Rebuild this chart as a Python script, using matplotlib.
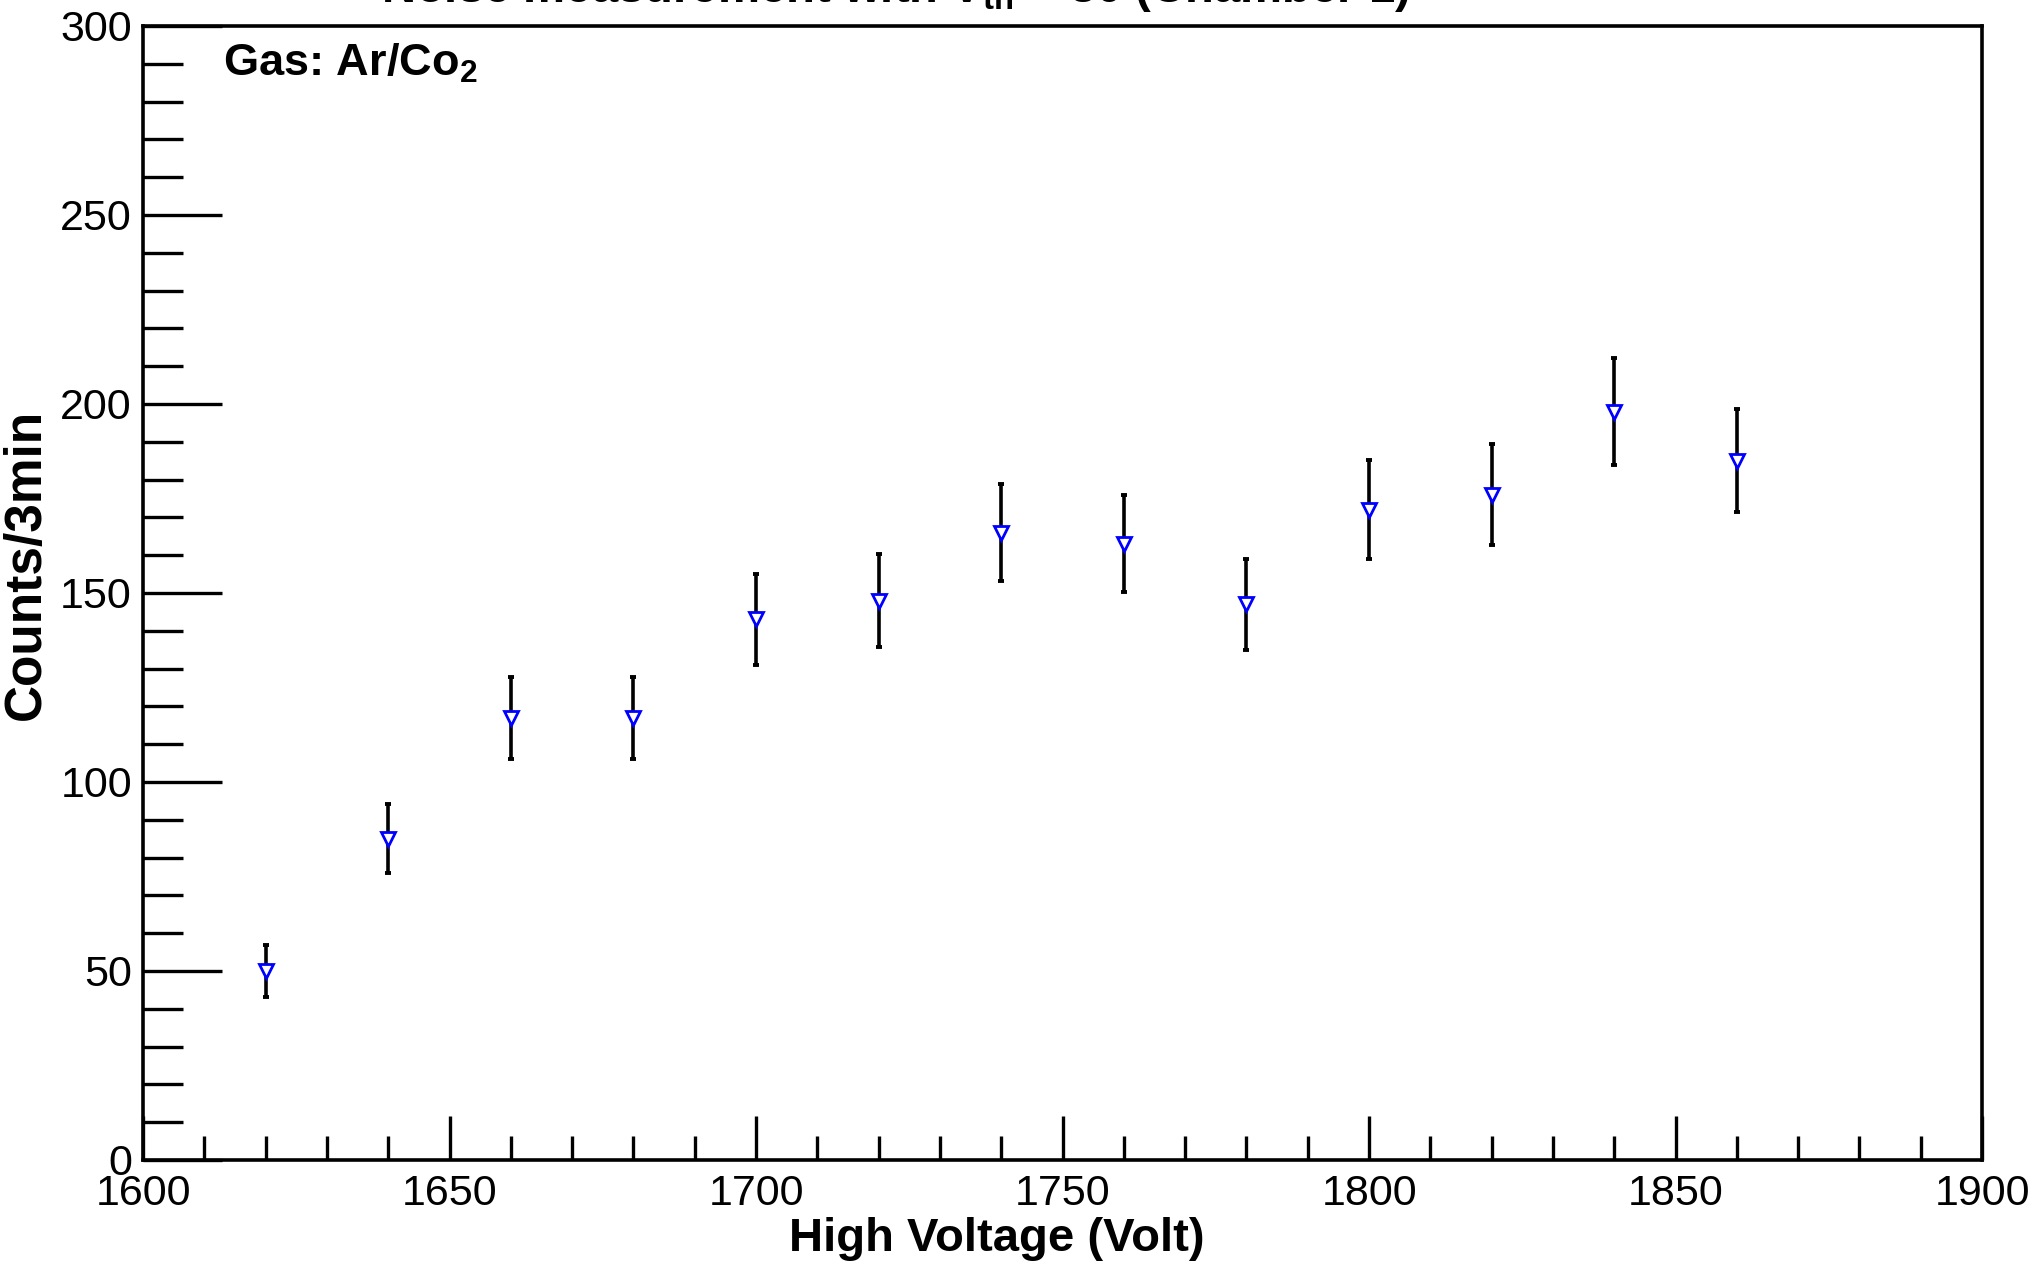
import matplotlib.pyplot as plt
import numpy as np
from matplotlib.ticker import MultipleLocator

plt.rcParams['font.family'] = ['Liberation Sans', 'DejaVu Sans']
plt.rcParams['mathtext.fontset'] = 'custom'
plt.rcParams['mathtext.rm'] = 'Liberation Sans'
plt.rcParams['mathtext.bf'] = 'Liberation Sans:bold'

# data
hv = [1620, 1640, 1660, 1680, 1700, 1720, 1740, 1760, 1780, 1800, 1820, 1840, 1860]
counts = [50, 85, 117, 117, 143, 148, 166, 163, 147, 172, 176, 198, 185]
err = [7, 9.2, 10.8, 10.8, 12, 12.2, 12.9, 12.8, 12.1, 13.1, 13.3, 14.1, 13.6]

fig = plt.figure(figsize=(20.35, 12.68), dpi=100)
ax = fig.add_axes([0.0703, 0.0852, 0.9037, 0.8943])

ax.errorbar(hv, counts, yerr=err, fmt='none', ecolor='k', elinewidth=2.6,
            capsize=2.5, capthick=2.8)
ax.plot(hv, counts, linestyle='none', marker='v', markersize=10,
        markerfacecolor='white', markeredgecolor='blue', markeredgewidth=2.0)

ax.set_xlim(1600, 1900)
ax.set_ylim(0, 300)
ax.xaxis.set_major_locator(MultipleLocator(50))
ax.xaxis.set_minor_locator(MultipleLocator(10))
ax.yaxis.set_major_locator(MultipleLocator(50))
ax.yaxis.set_minor_locator(MultipleLocator(10))

ax.tick_params(axis='both', which='both', direction='in', top=False, right=False,
               width=2.4, labelsize=31)
ax.tick_params(axis='x', which='major', length=32, pad=10)
ax.tick_params(axis='x', which='minor', length=17)
ax.tick_params(axis='y', which='major', length=57, pad=8)
ax.tick_params(axis='y', which='minor', length=29)
for s in ax.spines.values():
    s.set_linewidth(2.6)

ax.set_xlabel('High Voltage (Volt)', fontsize=34, fontweight='bold')
ax.set_ylabel('Counts/3min', fontsize=37, fontweight='bold')
ax.xaxis.set_label_coords(0.464, -0.050)
ax.yaxis.set_label_coords(-0.050, 0.525)

ax.text(0.0435, 0.986, r'Gas: Ar/Co$_\mathbf{2}$', transform=ax.transAxes,
        fontsize=32.5, fontweight='bold', va='top', ha='left')

# title sits mostly above the page edge, as in the original
fig.text(0.44, 1 - 14 / 1268, r'Noise measurement with V$_\mathbf{th}$ = 30 (Chamber 1)',
         fontsize=34, fontweight='bold', ha='center', va='bottom')

fig.savefig('out.png', dpi=100)
